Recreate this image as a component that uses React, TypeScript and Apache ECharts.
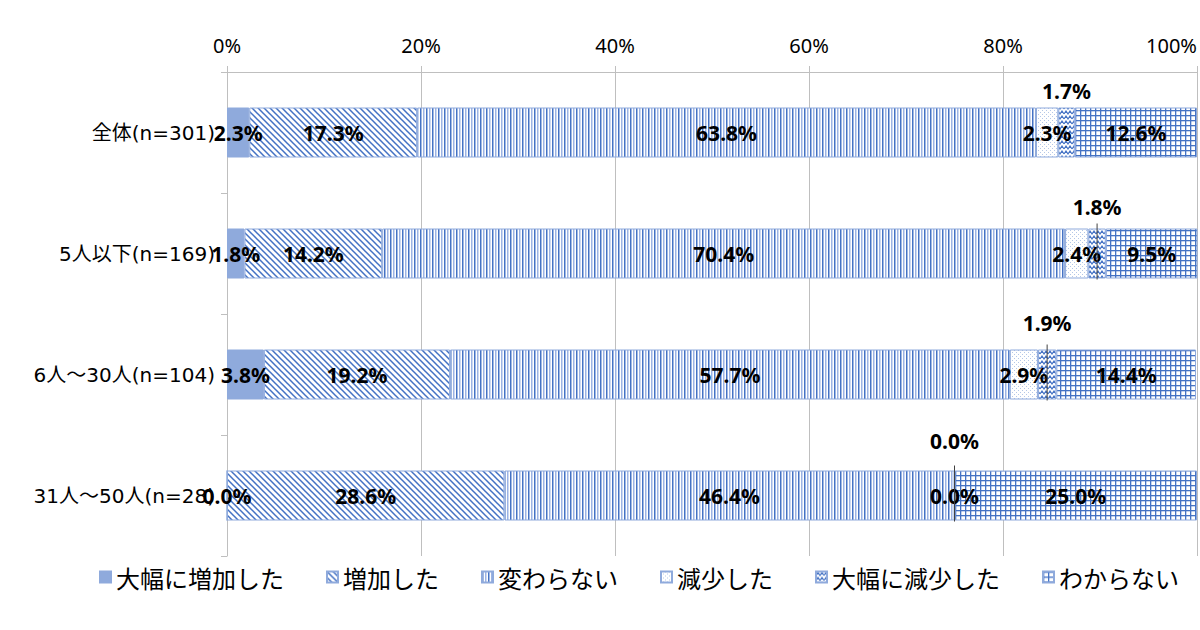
import React, { useEffect, useRef } from "react";
import * as echarts from "echarts";

// ---------- data ----------
const categories = ["全体(n=301)", "5人以下(n=169)", "6人～30人(n=104)", "31人～50人(n=28)"];
const seriesNames = ["大幅に増加した", "増加した", "変わらない", "減少した", "大幅に減少した", "わからない"];
const greatlyIncreased = [2.3, 1.8, 3.8, 0.0];
const increased = [17.3, 14.2, 19.2, 28.6];
const unchanged = [63.8, 70.4, 57.7, 46.4];
const decreased = [2.3, 2.4, 2.9, 0.0];
const greatlyDecreased = [1.7, 1.8, 1.9, 0.0];
const unknown = [12.6, 9.5, 14.4, 25.0];
const valueAxisMax = 100;
const valueAxisStep = 20;

// ---------- styles ----------
const TOP_LABEL_DIST = [6, 11, 16, 19];
const SHOW_LEADER = [false, true, true, true];
const BLUE = "#4472C4";
const LIGHT = "#9CB3E4";
const AXIS_GRAY = "#BFBFBF";

function makePattern(w: number, h: number, draw: (ctx: CanvasRenderingContext2D) => void) {
  const c = document.createElement("canvas");
  c.width = w;
  c.height = h;
  const ctx = c.getContext("2d") as CanvasRenderingContext2D;
  ctx.fillStyle = "#ffffff";
  ctx.fillRect(0, 0, w, h);
  draw(ctx);
  return { image: c, repeat: "repeat" } as any;
}

function buildFills() {
  const solid = "#8FAADC";
  const diag = makePattern(6, 6, (ctx) => {
    ctx.strokeStyle = BLUE;
    ctx.lineWidth = 1.5;
    ctx.beginPath();
    ctx.moveTo(-1, -1); ctx.lineTo(7, 7);
    ctx.moveTo(-1, 5); ctx.lineTo(1, 7);
    ctx.moveTo(5, -1); ctx.lineTo(7, 1);
    ctx.stroke();
  });
  const vert = makePattern(6, 4, (ctx) => {
    ctx.fillStyle = BLUE;
    ctx.fillRect(0, 0, 1.5, 4);
    ctx.fillStyle = LIGHT;
    ctx.fillRect(3, 0, 1.5, 4);
  });
  const dots = makePattern(4, 4, (ctx) => {
    ctx.fillStyle = "#B4C7E7";
    ctx.fillRect(0, 0, 1, 1);
    ctx.fillRect(2, 2, 1, 1);
  });
  const wave = makePattern(8, 5, (ctx) => {
    ctx.strokeStyle = BLUE;
    ctx.lineWidth = 1.2;
    ctx.beginPath();
    ctx.moveTo(0, 4); ctx.lineTo(2, 1); ctx.lineTo(4, 4); ctx.lineTo(6, 1); ctx.lineTo(8, 4);
    ctx.stroke();
  });
  const grid = makePattern(5, 5, (ctx) => {
    ctx.fillStyle = BLUE;
    ctx.fillRect(0, 0, 5, 1.3);
    ctx.fillRect(0, 0, 1.3, 5);
  });
  return [solid, diag, vert, dots, wave, grid];
}

export default function App() {
  const ref = useRef<HTMLDivElement>(null);

  useEffect(() => {
    if (!ref.current) return;
    const chart = echarts.init(ref.current, undefined, { renderer: "svg" });
    const fills = buildFills();
    const seriesData = [greatlyIncreased, increased, unchanged, decreased, greatlyDecreased, unknown];

    const labelBase = {
      show: true,
      position: "inside",
      color: "#000",
      fontWeight: "bold",
      fontSize: 21,
      fontFamily: "Noto Sans",
      formatter: (p: any) => Number(p.value).toFixed(1) + "%",
    };

    const barSeries = seriesNames.map((name, si) => {
      const values = seriesData[si];
      const data =
        si === 4
          ? values.map((v, i) => ({ value: v, label: { position: "top", distance: TOP_LABEL_DIST[i] } }))
          : values;
      return {
        name,
        type: "bar",
        stack: "total",
        barWidth: 50,
        data,
        itemStyle: { color: fills[si], borderColor: "#8FAADC", borderWidth: 1 },
        label: labelBase,
        emphasis: { disabled: true },
      };
    });

    const leaderData = categories.map((_, i) => {
      const before = greatlyIncreased[i] + increased[i] + unchanged[i] + decreased[i];
      return [before + greatlyDecreased[i] / 2, i];
    });

    const leaderSeries = {
      type: "custom",
      silent: true,
      data: leaderData,
      z: 5,
      renderItem: (params: any, api: any) => {
        const i = api.value(1);
        if (!SHOW_LEADER[i]) return null;
        const p = api.coord([api.value(0), i]);
        return {
          type: "line",
          shape: { x1: p[0], y1: p[1] - 30, x2: p[0], y2: p[1] + 26 },
          style: { stroke: "#404040", lineWidth: 1 },
        };
      },
    };

    chart.setOption({
      animation: false,
      backgroundColor: "#ffffff",
      textStyle: { fontFamily: "Noto Sans CJK JP" },
      grid: {
        left: 227,
        right: 3,
        top: 72,
        bottom: 74,
        containLabel: false,
        outerBoundsMode: "none",
      },
      legend: {
        data: seriesNames,
        left: 94,
        top: 560,
        icon: "rect",
        itemWidth: 11,
        itemHeight: 11,
        itemGap: 42,
        textStyle: { fontSize: 24, color: "#000", fontFamily: "Noto Sans CJK JP" },
      },
      xAxis: {
        type: "value",
        position: "top",
        min: 0,
        max: valueAxisMax,
        interval: valueAxisStep,
        axisLine: { show: true, lineStyle: { color: AXIS_GRAY } },
        axisTick: { show: true, length: 6, lineStyle: { color: AXIS_GRAY } },
        splitLine: { show: true, lineStyle: { color: AXIS_GRAY } },
        axisLabel: {
          formatter: "{value}%",
          fontSize: 20,
          color: "#000",
          margin: 17,
          fontFamily: "Noto Sans",
          alignMaxLabel: "right",
        },
      },
      yAxis: {
        type: "category",
        inverse: true,
        data: categories,
        axisLine: { show: true, lineStyle: { color: AXIS_GRAY } },
        axisTick: { show: true, length: 6, lineStyle: { color: AXIS_GRAY } },
        axisLabel: {
          fontSize: 20,
          color: "#000",
          margin: 12,
          fontFamily: "'DejaVu Sans', 'Noto Sans CJK JP'",
        },
      },
      series: [...barSeries, leaderSeries],
    } as any);

    return () => chart.dispose();
  }, []);

  return (
    <div
      ref={ref}
      style={{ position: "absolute", left: 0, top: 0, width: 1200, height: 630, background: "#fff" }}
    />
  );
}
